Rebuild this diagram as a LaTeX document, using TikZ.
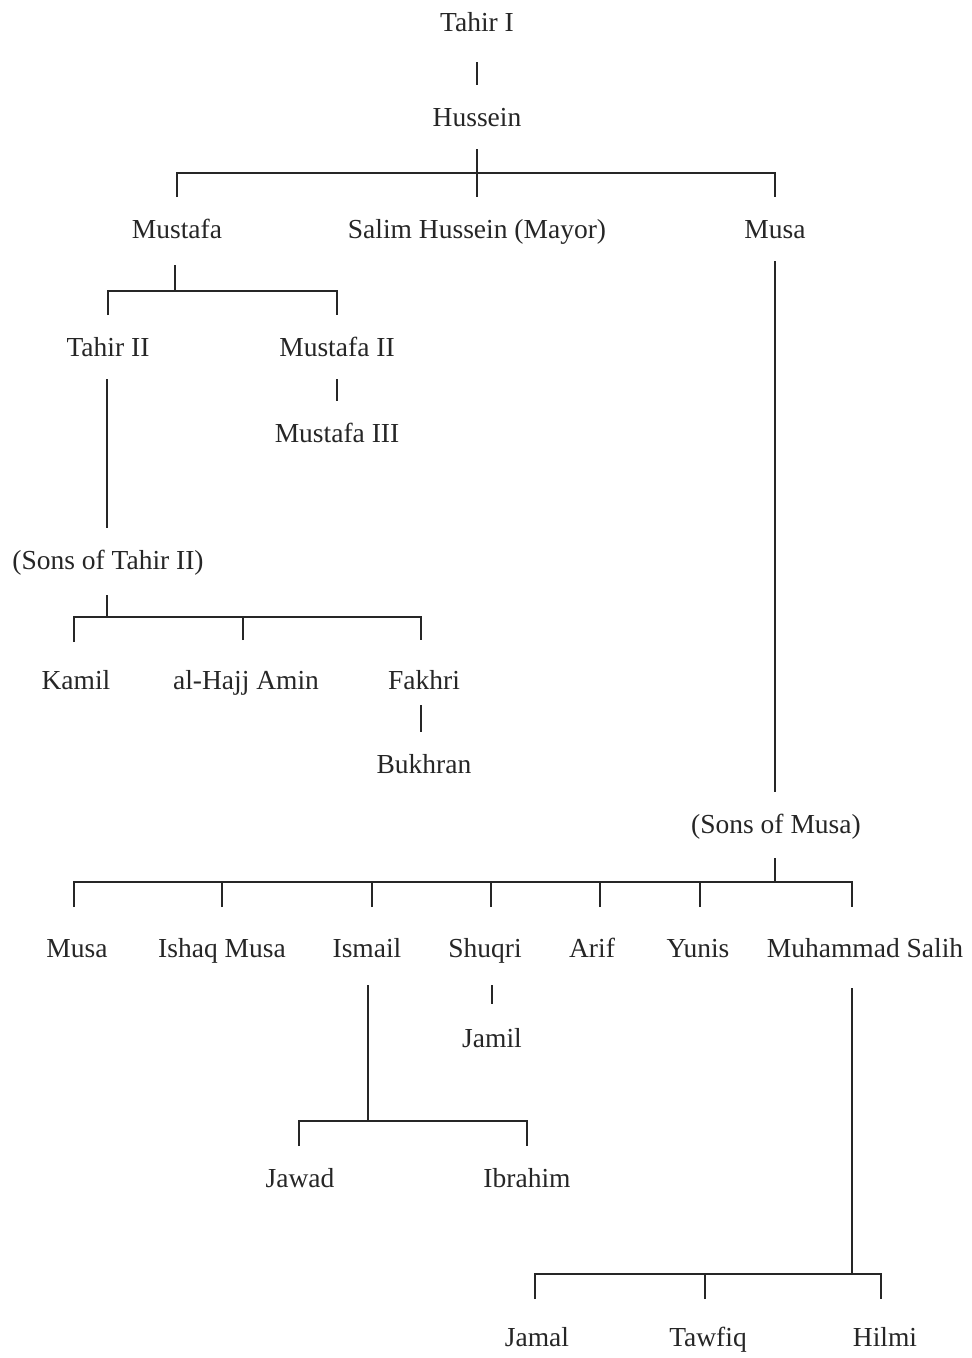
\documentclass[tikz,border=0pt]{standalone}
\usepackage{fontspec}
\setmainfont{Liberation Serif}
\definecolor{ink}{HTML}{262626}
\begin{document}
\begin{tikzpicture}[x=1pt,y=-1pt,
  person/.style={font=\fontsize{27.5}{33}\selectfont, text=ink, text height=22pt, text depth=4pt, inner xsep=2pt, inner ysep=19pt, outer sep=0pt},
  link/.style={draw=ink, line width=1.5pt}]
\useasboundingbox (0,0) rectangle (972,1358);
% nodes
\node[person] (tahirI) at (477,22) {Tahir I};
\node[person] (hussein) at (477,117) {Hussein};
\node[person] (mustafa) at (177,229) {Mustafa};
\node[person] (salim) at (477,229) {Salim Hussein (Mayor)};
\node[person] (musa) at (775,229) {Musa};
\node[person] (tahirII) at (108,347) {Tahir II};
\node[person] (mustafaII) at (337,347) {Mustafa II};
\node[person] (mustafaIII) at (337,433) {Mustafa III};
\node[person] (sonsT) at (108,560) {(Sons of Tahir II)};
\node[person] (kamil) at (76,680) {Kamil};
\node[person] (amin) at (246,680) {al-Hajj Amin};
\node[person] (fakhri) at (424,680) {Fakhri};
\node[person] (bukhran) at (424,764) {Bukhran};
\node[person] (sonsM) at (776,824) {(Sons of Musa)};
\node[person] (musaB) at (77,948) {Musa};
\node[person] (ishaq) at (222,948) {Ishaq Musa};
\node[person] (ismail) at (367,948) {Ismail};
\node[person] (shuqri) at (485,948) {Shuqri};
\node[person] (arif) at (592,948) {Arif};
\node[person] (yunis) at (698,948) {Yunis};
\node[person] (msalih) at (865,948) {Muhammad Salih};
\node[person] (jamil) at (492,1038) {Jamil};
\node[person] (jawad) at (300,1178) {Jawad};
\node[person] (ibrahim) at (527,1178) {Ibrahim};
\node[person] (jamal) at (537,1337) {Jamal};
\node[person] (tawfiq) at (708,1337) {Tawfiq};
\node[person] (hilmi) at (885,1337) {Hilmi};
% bar coordinates
\coordinate (hb) at (477,173);
\coordinate (mb) at (175,291);
\coordinate (tb) at (107,617);
\coordinate (sb) at (775,882);
\coordinate (ib) at (368,1121);
\coordinate (jb) at (852,1274);
% Tahir I -> Hussein
\draw[link] ([yshift=-8pt]tahirI.south) -- (hussein.north);
% Hussein -> sons
\draw[link] (hussein.south) -- (salim.north);
\draw[link] (mustafa.north) -- (mustafa.north |- hb) -- (musa.north |- hb) -- (musa.north);
% Mustafa -> sons
\draw[link] ([xshift=-2pt,yshift=-4pt]mustafa.south) -- ([xshift=-2pt]mustafa.south |- mb);
\draw[link] (tahirII.north) -- (tahirII.north |- mb) -- (mustafaII.north |- mb) -- (mustafaII.north);
\draw[link] (mustafaII.south) -- (mustafaIII.north);
% Tahir II -> sons
\draw[link] ([xshift=-1pt]tahirII.south) -- ([xshift=-1pt]sonsT.north);
\draw[link] ([xshift=-1pt,yshift=-3pt]sonsT.south) -- (tb);
\draw[link] ([xshift=-2pt,yshift=6pt]kamil.north) -- ([xshift=-2pt]kamil.north |- tb) -- ([xshift=-3pt]fakhri.north |- tb) -- ([xshift=-3pt,yshift=8pt]fakhri.north);
\draw[link] ([xshift=-3pt,yshift=8pt]amin.north) -- ([xshift=-3pt]amin.north |- tb);
\draw[link] ([xshift=-3pt,yshift=7pt]fakhri.south) -- ([xshift=-3pt]bukhran.north);
% Musa -> sons
\draw[link] (musa.south) -- ([xshift=-1pt]sonsM.north);
\draw[link] ([xshift=-1pt,yshift=-2pt]sonsM.south) -- (sb);
\draw[link] ([xshift=-3pt,yshift=9pt]musaB.north) -- ([xshift=-3pt]musaB.north |- sb) -- ([xshift=-13pt]msalih.north |- sb) -- ([xshift=-13pt,yshift=9pt]msalih.north);
\draw[link] ([yshift=9pt]ishaq.north) -- (ishaq.north |- sb);
\draw[link] ([xshift=5pt,yshift=9pt]ismail.north) -- ([xshift=5pt]ismail.north |- sb);
\draw[link] ([xshift=6pt,yshift=9pt]shuqri.north) -- ([xshift=6pt]shuqri.north |- sb);
\draw[link] ([xshift=8pt,yshift=9pt]arif.north) -- ([xshift=8pt]arif.north |- sb);
\draw[link] ([xshift=2pt,yshift=9pt]yunis.north) -- ([xshift=2pt]yunis.north |- sb);
% Shuqri -> Jamil
\draw[link] ([yshift=-5pt]jamil.north |- shuqri.south) -- ([yshift=2pt]jamil.north);
% Ismail -> sons
\draw[link] ([xshift=1pt,yshift=-5pt]ismail.south) -- (ib);
\draw[link] ([xshift=-1pt]jawad.north) -- ([xshift=-1pt]jawad.north |- ib) -- (ibrahim.north |- ib) -- (ibrahim.north);
% Muhammad Salih -> sons
\draw[link] ([xshift=-13pt,yshift=-8pt]msalih.south) -- (jb);
\draw[link] ([xshift=-2pt,yshift=6pt]jamal.north) -- ([xshift=-2pt]jamal.north |- jb) -- ([xshift=-4pt]hilmi.north |- jb) -- ([xshift=-4pt,yshift=6pt]hilmi.north);
\draw[link] ([xshift=-3pt,yshift=6pt]tawfiq.north) -- ([xshift=-3pt]tawfiq.north |- jb);
\end{tikzpicture}
\end{document}
